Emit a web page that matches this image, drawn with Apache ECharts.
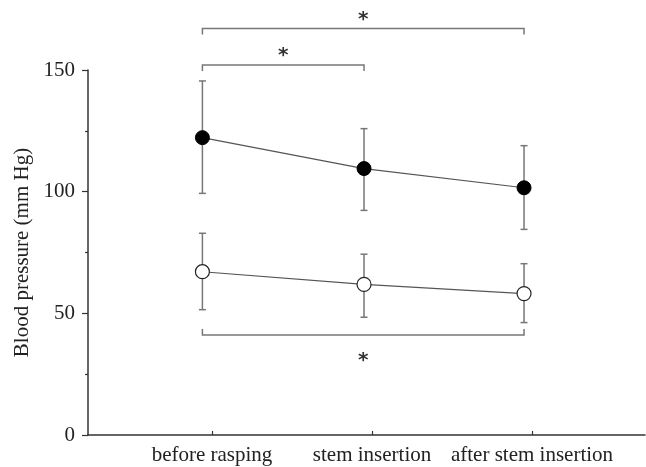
<!DOCTYPE html>
<html>
<head>
<meta charset="utf-8">
<script src="https://cdn.jsdelivr.net/npm/echarts@6/dist/echarts.min.js"></script>
<style>html,body{margin:0;padding:0;background:#fff;}#c{width:646px;height:467px;}</style>
</head>
<body>
<div id="c"></div>
<script>
// ---- data ----
const categories = ['before rasping', 'stem insertion', 'after stem insertion'];
const tickPos = [1, 2, 3];
const pointPos = [0.94, 1.95, 2.95];
const yTicks = [0, 50, 100, 150];

const systolicMean = [122.2, 109.5, 101.6];
const systolicLow  = [99.3, 92.3, 84.5];
const systolicHigh = [145.5, 125.9, 118.9];

const diastolicMean = [67.1, 61.9, 58.1];
const diastolicLow  = [51.5, 48.4, 46.2];
const diastolicHigh = [82.9, 74.3, 70.4];

// significance brackets: from point index, to point index, level (mm Hg), side (1 = above, -1 = below)
const bracketFrom  = [0, 0, 0];
const bracketTo    = [2, 1, 2];
const bracketLevel = [167.1, 152.1, 41.1];
const bracketSide  = [1, 1, -1];
const bracketMark  = ['*', '*', '*'];

// ---- build ----
const serif = '"Liberation Serif", "Times New Roman", serif';
const errData = [];
for (let i = 0; i < pointPos.length; i++) {
  errData.push([pointPos[i], systolicLow[i], systolicHigh[i]]);
  errData.push([pointPos[i], diastolicLow[i], diastolicHigh[i]]);
}
const brData = bracketFrom.map((f, i) => [pointPos[f], pointPos[bracketTo[i]], bracketLevel[i], bracketSide[i]]);

const chart = echarts.init(document.getElementById('c'), null, {renderer: 'canvas'});
chart.setOption({
  animation: false,
  backgroundColor: '#fff',
  grid: {left: 88, right: 1, top: 70, bottom: 32, containLabel: false},
  xAxis: {
    type: 'value', min: 0.225, max: 3.706,
    splitLine: {show: false},
    axisLine: {show: true, lineStyle: {color: '#333', width: 1.5}},
    axisTick: {show: true, inside: true, length: 4, customValues: tickPos, lineStyle: {color: '#333', width: 1.2}},
    axisLabel: {
      customValues: tickPos, margin: 10, color: '#222', fontFamily: serif, fontSize: 21,
      formatter: v => categories[Math.round(v) - 1] || ''
    }
  },
  yAxis: {
    type: 'value', min: 0, max: 150, interval: 50,
    name: 'Blood pressure (mm Hg)', nameLocation: 'middle', nameGap: 50,
    nameTextStyle: {color: '#222', fontFamily: serif, fontSize: 21},
    splitLine: {show: false},
    axisLine: {show: true, lineStyle: {color: '#333', width: 1.5}},
    axisTick: {show: true, inside: false, length: 6, lineStyle: {color: '#333', width: 1.2}},
    minorTick: {show: true, splitNumber: 2, length: 3, lineStyle: {color: '#333', width: 1.2}},
    axisLabel: {margin: 13, color: '#222', fontFamily: serif, fontSize: 21,
      formatter: v => yTicks.indexOf(v) >= 0 ? String(v) : ''}
  },
  series: [
    {
      type: 'custom', z: 1, clip: false,
      renderItem: (params, api) => {
        const x = api.value(0);
        const lo = api.coord([x, api.value(1)]);
        const hi = api.coord([x, api.value(2)]);
        const w = 3.5;
        const st = {stroke: '#777', lineWidth: 1.5};
        return {type: 'group', children: [
          {type: 'line', shape: {x1: lo[0], y1: lo[1], x2: hi[0], y2: hi[1]}, style: st},
          {type: 'line', shape: {x1: lo[0] - w, y1: lo[1], x2: lo[0] + w, y2: lo[1]}, style: st},
          {type: 'line', shape: {x1: hi[0] - w, y1: hi[1], x2: hi[0] + w, y2: hi[1]}, style: st}
        ]};
      },
      data: errData
    },
    {
      type: 'line', z: 3, symbol: 'circle', symbolSize: 14,
      lineStyle: {color: '#555', width: 1.2},
      itemStyle: {color: '#000', borderColor: '#000', borderWidth: 1},
      data: pointPos.map((x, i) => [x, systolicMean[i]])
    },
    {
      type: 'line', z: 3, symbol: 'circle', symbolSize: 14,
      lineStyle: {color: '#555', width: 1.2},
      itemStyle: {color: '#fff', borderColor: '#222', borderWidth: 1.2},
      data: pointPos.map((x, i) => [x, diastolicMean[i]])
    },
    {
      type: 'custom', z: 2, clip: false,
      renderItem: (params, api) => {
        const y = api.value(2), side = api.value(3);
        const p1 = api.coord([api.value(0), y]);
        const p2 = api.coord([api.value(1), y]);
        const d = side * 6;
        return {type: 'group', children: [
          {type: 'polyline', shape: {points: [[p1[0], p1[1] + d], [p1[0], p1[1]], [p2[0], p2[1]], [p2[0], p2[1] + d]]},
            style: {stroke: '#777', lineWidth: 1.5, fill: null}},
          {type: 'text', style: {text: bracketMark[params.dataIndex], x: (p1[0] + p2[0]) / 2,
            y: p1[1] + (side > 0 ? -9 : 26), align: 'center', verticalAlign: 'middle',
            font: 'bold 20px "DejaVu Sans", sans-serif', fill: '#333'}}
        ]};
      },
      data: brData
    }
  ]
});
</script>
</body>
</html>
